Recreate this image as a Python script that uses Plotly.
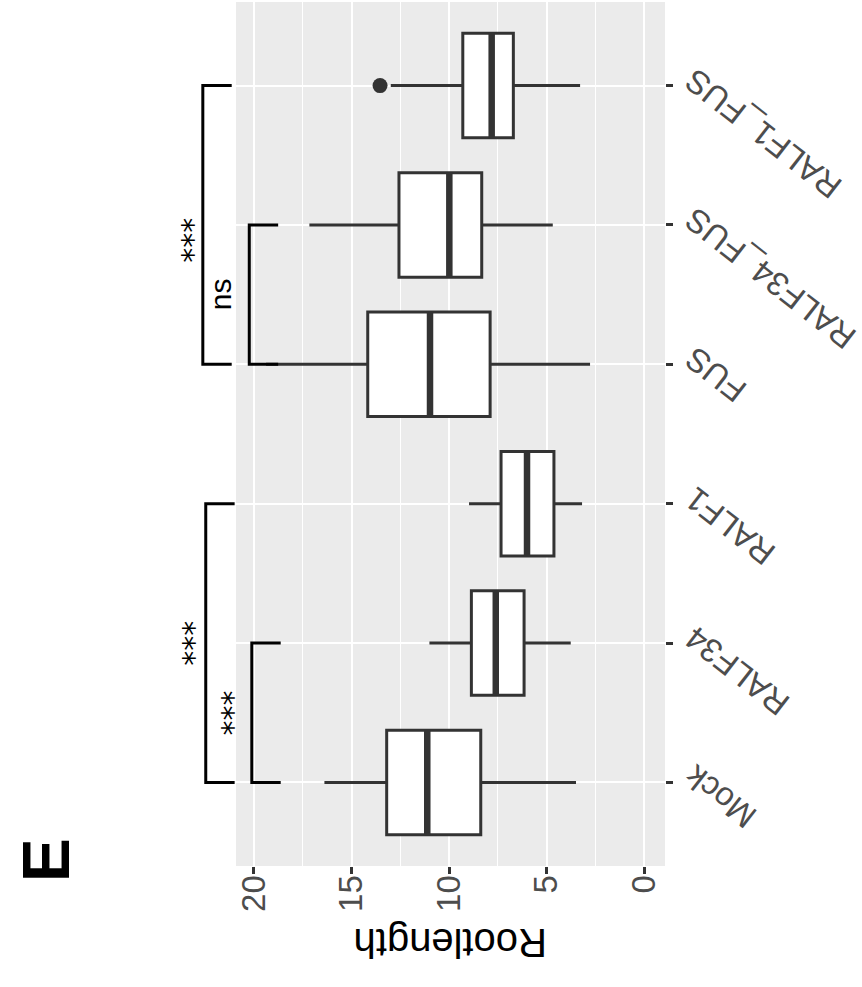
import plotly.graph_objects as go

# box statistics (Rootlength)
groups = ["Mock", "RALF34", "RALF1", "FUS", "RALF34_FUS", "RALF1_FUS"]
lower = [3.50, 3.77, 3.19, 2.78, 4.69, 3.29]
q1 = [8.38, 6.16, 4.63, 7.90, 8.33, 6.71]
median = [11.12, 7.61, 6.01, 10.98, 9.99, 7.82]
q3 = [13.20, 8.86, 7.34, 14.17, 12.57, 9.30]
upper = [16.39, 11.01, 8.98, 19.38, 17.16, 12.99]
outlier_group = ["RALF1_FUS"]
outlier_value = [13.54]

value_ticks = [0, 5, 10, 15, 20]

# significance brackets
sig_from = ["Mock", "Mock", "FUS", "FUS"]
sig_to = ["RALF1", "RALF34", "RALF1_FUS", "RALF34_FUS"]
sig_y = [22.47, 20.11, 22.62, 20.24]
sig_label = ["***", "***", "***", "ns"]
sig_label_x = [23.14, 21.09, 23.15, 21.71]
sig_label_pos = [1.0, 0.5, 3.89, 3.5]
tip = 1.48

X_RANGE = [20.92, -1.06]
Y_RANGE = [-0.6, 5.6]
BOX_W = 0.75
FONT = "Liberation Sans, Arial, sans-serif"
DARK = "#333333"


def xpaper(v):
    return (X_RANGE[0] - v) / (X_RANGE[0] - X_RANGE[1])


pos = list(range(len(groups)))

fig = go.Figure()
fig.add_trace(go.Box(
    y=pos, q1=q1, median=median, q3=q3,
    lowerfence=lower, upperfence=upper,
    orientation="h", width=BOX_W, whiskerwidth=0,
    fillcolor="white", line=dict(color=DARK, width=3),
    boxpoints=False, hoverinfo="skip", showlegend=False,
))

# thick median bars like ggplot
mx, my = [], []
for p, m in zip(pos, median):
    mx += [m, m, None]
    my += [p - BOX_W / 2, p + BOX_W / 2, None]
fig.add_trace(go.Scatter(x=mx, y=my, mode="lines",
                         line=dict(color=DARK, width=6.5),
                         hoverinfo="skip", showlegend=False))

fig.add_trace(go.Scatter(
    x=outlier_value, y=[groups.index(g) for g in outlier_group],
    mode="markers", marker=dict(color=DARK, size=15),
    hoverinfo="skip", showlegend=False,
))

for a, b, h, lab, lx, lp in zip(sig_from, sig_to, sig_y, sig_label,
                                sig_label_x, sig_label_pos):
    ya, yb = groups.index(a), groups.index(b)
    xv, xt = xpaper(h), xpaper(h - tip)
    fig.add_shape(type="path", xref="paper", yref="y",
                  path=f"M {xt},{ya} L {xv},{ya} L {xv},{yb} L {xt},{yb}",
                  line=dict(color="black", width=3))
    if lab == "***":
        fnt, sz = "DejaVu Sans", 30
    else:
        fnt, sz = FONT, 30
    fig.add_annotation(x=xpaper(lx), y=lp, xref="paper", yref="y",
                       xanchor="center", yanchor="middle",
                       text=lab, textangle=-90, showarrow=False,
                       font=dict(family=fnt, size=sz, color="black"))

# category labels (angled, end of text at the tick)
for p, g in zip(pos, groups):
    fig.add_annotation(x=1, y=p, xref="paper", yref="y",
                       xanchor="left", yanchor="top", xshift=10, yshift=27,
                       text=g, textangle=-142, showarrow=False,
                       font=dict(family=FONT, size=33, color="#4D4D4D"))

fig.add_annotation(x=0.5, y=-0.089, xref="paper", yref="paper",
                   xanchor="center", yanchor="middle",
                   text="Rootlength", textangle=180, showarrow=False,
                   font=dict(family=FONT, size=40, color="black"))
fig.add_annotation(x=-0.442, y=0.007, xref="paper", yref="paper",
                   xanchor="center", yanchor="middle",
                   text="<b>E</b>", textangle=-90, showarrow=False,
                   font=dict(family=FONT, size=66, color="black"))

fig.update_xaxes(
    range=X_RANGE, tickvals=value_ticks, tickangle=-90,
    ticks="outside", ticklen=7, tickwidth=2.5, tickcolor=DARK,
    tickfont=dict(family=FONT, size=33, color="#4D4D4D"),
    ticklabelstandoff=-12,
    showgrid=True, gridcolor="white", gridwidth=2.2,
    minor=dict(dtick=2.5, showgrid=True, gridcolor="white", gridwidth=1.1),
    zeroline=False, showline=False, automargin=False,
)
fig.update_yaxes(
    range=Y_RANGE, tickvals=pos, ticktext=[""] * len(pos), side="right",
    ticks="outside", ticklen=7, tickwidth=2.5, tickcolor=DARK,
    showgrid=True, gridcolor="white", gridwidth=2.2,
    zeroline=False, showline=False, automargin=False,
)
fig.update_layout(
    width=862, height=987,
    margin=dict(l=236, r=197, t=2, b=121),
    plot_bgcolor="#EBEBEB", paper_bgcolor="white",
    font=dict(family=FONT), showlegend=False,
)
# drop the default body margin so the figure sits at the page corner
fig.write_html("out.html", config={"displayModeBar": False},
               post_script="document.body.style.margin='0px';")
